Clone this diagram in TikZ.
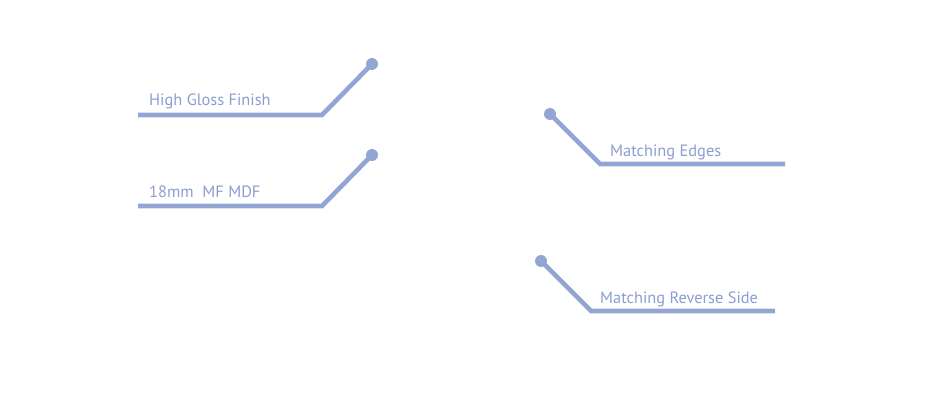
\documentclass[tikz,border=0pt]{standalone}
\usepackage{fontspec}
\setmainfont{PT Sans}
\definecolor{callblue}{HTML}{93A6D3}
\definecolor{calltext}{HTML}{8A9ED0}
\tikzset{
  lead/.style={draw=callblue, line width=4.6pt, line join=miter},
  pin/.style={circle, fill=callblue, inner sep=0pt, minimum size=12pt},
  lbl/.style={anchor=base west, inner sep=0pt, text=calltext, font=\fontsize{16.4}{19}\selectfont}
}
\begin{document}
\begin{tikzpicture}[x=1pt,y=-1pt]
\useasboundingbox (0,0) rectangle (930,401);
% callout 1
\node[pin] (d1) at (372,64) {};
\coordinate (b1) at (322,115);
\coordinate (e1) at (138,115);
\draw[lead] (d1.center) -- (b1) -- (e1);
\node[lbl] (t1) at (149,106) {High Gloss Finish};
% callout 2
\node[pin] (d2) at (372,155) {};
\coordinate (b2) at (322,206);
\coordinate (e2) at (138,206);
\draw[lead] (d2.center) -- (b2) -- (e2);
\node[lbl] (t2) at (149,197) {18mm\ \ MF MDF};
% callout 3
\node[pin] (d3) at (550,114) {};
\coordinate (b3) at (600,164);
\coordinate (e3) at (785,164);
\draw[lead] (d3.center) -- (b3) -- (e3);
\node[lbl] (t3) at (610,157) {Matching Edges};
% callout 4
\node[pin] (d4) at (541,261) {};
\coordinate (b4) at (591,311);
\coordinate (e4) at (775,311);
\draw[lead] (d4.center) -- (b4) -- (e4);
\node[lbl] (t4) at (600,303) {Matching Reverse Side};
\end{tikzpicture}
\end{document}
